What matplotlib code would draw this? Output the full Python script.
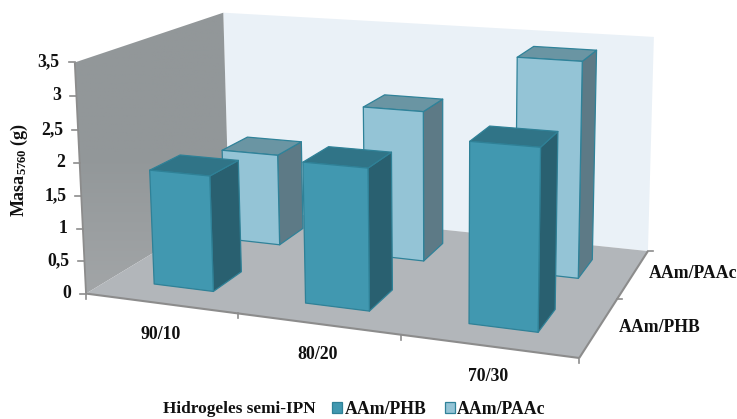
import numpy as np
import matplotlib
matplotlib.use("Agg")
import matplotlib.pyplot as plt
from matplotlib.patches import Polygon, Patch

categories = ["90/10", "80/20", "70/30"]
series_names = ["AAm/PHB", "AAm/PAAc"]
phb_values = [1.78, 2.12, 2.63]
paac_values = [1.51, 2.42, 3.37]
y_ticks = [0, 0.5, 1, 1.5, 2, 2.5, 3, 3.5]
y_tick_labels = ["0", "0,5", "1", "1,5", "2", "2,5", "3", "3,5"]
y_label = r"Masa$_{5760}$ (g)"
legend_title = "Hidrogeles semi-IPN"

W, H = 737, 419
plt.rcParams["font.family"] = ["Liberation Serif", "DejaVu Serif"]
plt.rcParams["font.weight"] = "bold"
plt.rcParams["mathtext.default"] = "regular"
fig = plt.figure(figsize=(W / 100, H / 100), dpi=100, facecolor="white")
ax = fig.add_axes([0, 0, 1, 1])
ax.set_xlim(0, W)
ax.set_ylim(H, 0)
ax.axis("off")

# camera calibration: (category, series, value) -> pixel, fitted to box corners
ZMAX = 3.5
calib = [((0, 0, 0), (86, 294)), ((3, 0, 0), (579, 358)), ((3, 2, 0), (648, 251)),
         ((0, 2, 0), (229, 207)), ((0, 0, ZMAX), (75, 62)), ((0, 2, ZMAX), (223, 13)),
         ((3, 2, ZMAX), (654, 37))]
A, b = [], []
for (X, Y, Z), (u, v) in calib:
    A.append([X, Y, Z, 1, 0, 0, 0, 0, -u * X, -u * Y, -u * Z]); b.append(u)
    A.append([0, 0, 0, 0, X, Y, Z, 1, -v * X, -v * Y, -v * Z]); b.append(v)
P = np.append(np.linalg.lstsq(np.array(A, float), np.array(b, float), rcond=None)[0], 1).reshape(3, 4)


def proj(x, y, z):
    q = P @ np.array([x, y, z, 1.0])
    return q[0] / q[2], q[1] / q[2]


def face(pts, fc, ec="none", lw=0.0, z=1):
    ax.add_patch(Polygon([proj(*p) for p in pts], closed=True, facecolor=fc,
                         edgecolor=ec, linewidth=lw, zorder=z, joinstyle="round"))


# walls and floor
xn, yn = len(categories), len(series_names)
face([(0, yn, 0), (xn, yn, 0), (xn, yn, ZMAX), (0, yn, ZMAX)], "#EAF1F7")
wall = Polygon([proj(0, 0, 0), proj(0, yn, 0), proj(0, yn, ZMAX), proj(0, 0, ZMAX)], closed=True,
               facecolor="none", edgecolor="none", zorder=1)
ax.add_patch(wall)
grad = np.linspace(0, 1, 256).reshape(-1, 1)
im = ax.imshow(grad, extent=(60, 240, 300, 10), aspect="auto", zorder=1,
               cmap=matplotlib.colors.LinearSegmentedColormap.from_list(
                   "w", ["#929799", "#929799", "#A3A6A8"]))
im.set_clip_path(wall)
ax.set_xlim(0, W)
ax.set_ylim(H, 0)
face([(0, 0, 0), (xn, 0, 0), (xn, yn, 0), (0, yn, 0)], "#B2B6BA")

line_c = "#8C8C8C"


def seg(a, b, lw=1.3):
    (x0, y0), (x1, y1) = proj(*a), proj(*b)
    ax.plot([x0, x1], [y0, y1], color=line_c, lw=lw, zorder=2, solid_capstyle="butt")


seg((0, 0, 0), (0, 0, ZMAX))
seg((0, 0, 0), (xn, 0, 0), 1.5)
seg((xn, 0, 0), (xn, yn, 0), 1.5)

# ticks and labels
FS = 12.8
for t, lab in zip(y_ticks, y_tick_labels):
    px, py = proj(0, 0, t)
    ax.plot([px - 6, px], [py, py], color=line_c, lw=1.2, zorder=2)
    ax.text(px - 15, py - 0.5, lab, ha="right", va="center", fontsize=FS, color="#111111")
for i in range(xn + 1):
    px, py = proj(i, 0, 0)
    ax.plot([px, px], [py, py + 5], color=line_c, lw=1.2, zorder=2)
for j in range(yn + 1):
    px, py = proj(xn, j, 0)
    if j > 0:
        ax.plot([px, px + 5], [py, py], color=line_c, lw=1.2, zorder=2)
for lab, (tx, ty) in zip(categories, [(161, 334), (318, 354), (488, 376)]):
    ax.text(tx, ty, lab, ha="center", va="center", fontsize=FS, color="#111111")
for lab, (tx, ty) in zip(series_names, [(619, 327), (649, 273)]):
    ax.text(tx, ty, lab, ha="left", va="center", fontsize=FS, color="#111111")
ax.text(19, 170, y_label, rotation=90, ha="center", va="center", fontsize=13, color="#111111")

# bars
styles = [dict(front="#4198B0", top="#307487", side="#296070", edge="#2F8197"),
          dict(front="#94C4D6", top="#6A95A3", side="#5D7A86", edge="#2F8299")]
values = [phb_values, paac_values]
HALF = 0.2
for j in [1, 0]:
    st = styles[j]
    for i, v in enumerate(values[j]):
        x0, x1 = i + 0.5 - HALF, i + 0.5 + HALF
        y0, y1 = j + 0.5 - HALF, j + 0.5 + HALF
        zo = 3 + (1 - j)
        kw = dict(ec=st["edge"], lw=0.9, z=zo)
        face([(x1, y0, 0), (x1, y1, 0), (x1, y1, v), (x1, y0, v)], st["side"], **kw)
        face([(x0, y0, v), (x1, y0, v), (x1, y1, v), (x0, y1, v)], st["top"], **kw)
        face([(x0, y0, 0), (x1, y0, 0), (x1, y0, v), (x0, y0, v)], st["front"], **kw)

# legend
ax.text(163, 409, legend_title, ha="left", va="center", fontsize=12.4, color="#111111")
handles = [Patch(facecolor=styles[k]["front"], edgecolor=styles[k]["edge"], linewidth=0.9)
           for k in range(2)]
leg = ax.legend(handles, series_names, loc="center left", bbox_to_anchor=(332 / W, 1 - 409 / H),
                ncol=2, frameon=False, fontsize=FS, handlelength=0.55, handleheight=0.55,
                handletextpad=0.15, columnspacing=1.05, borderaxespad=0, borderpad=0,
                labelcolor="#111111")
fig.savefig("out.png", dpi=100)
